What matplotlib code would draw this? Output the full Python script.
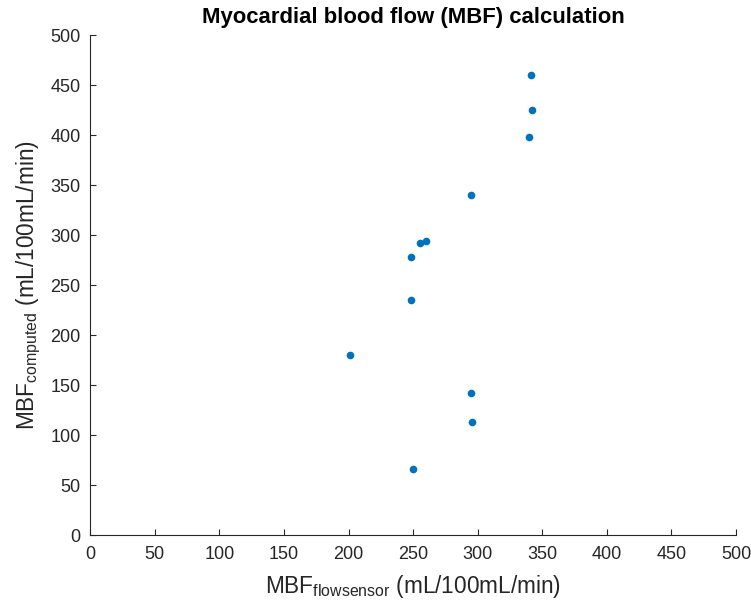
import matplotlib
matplotlib.use("Agg")
import matplotlib.pyplot as plt
import numpy as np

# valores
mbf_flowsensor = [341, 342, 340, 295, 255, 260, 248, 248, 201, 295, 296, 250]
mbf_computed = [460, 425, 398, 340, 292, 294, 278, 235, 180, 142, 113, 66]
ticks = np.arange(0, 501, 50)

plt.rcParams['font.family'] = ['Liberation Sans', 'DejaVu Sans']
plt.rcParams['mathtext.fontset'] = 'custom'
plt.rcParams['mathtext.rm'] = 'Liberation Sans'
plt.rcParams['mathtext.it'] = 'Liberation Sans'

gris = (0.15, 0.15, 0.15)

fig = plt.figure(figsize=(7.51, 6.05), dpi=100)
ax = fig.add_axes([0.1201, 0.1157, 0.8599, 0.8264])

ax.plot(mbf_flowsensor, mbf_computed, 'o', color='#0072BD',
        markersize=5.5, markeredgewidth=0)

ax.set_xlim(0, 500)
ax.set_ylim(0, 500)
ax.set_xticks(ticks)
ax.set_yticks(ticks)

# estilo tipo matlab: sin caja, ticks hacia adentro
for lado in ['top', 'right']:
    ax.spines[lado].set_visible(False)
for lado in ['left', 'bottom']:
    ax.spines[lado].set_color(gris)
    ax.spines[lado].set_linewidth(0.8)
ax.tick_params(direction='in', length=4.5, width=0.8, colors=gris,
               labelsize=13)
ax.tick_params(axis='x', pad=8)
ax.tick_params(axis='y', pad=7)

ax.set_title('Myocardial blood flow (MBF) calculation', fontsize=15.9,
             fontweight='bold', pad=8.6)
ax.set_xlabel(r'MBF$_{\mathrm{flowsensor}}$ (mL/100mL/min)', fontsize=16.3,
              color=gris, labelpad=7)
ax.set_ylabel(r'MBF$_{\mathrm{computed}}$ (mL/100mL/min)', fontsize=16.3,
              color=gris, labelpad=5)

fig.savefig('out.png', dpi=100)
